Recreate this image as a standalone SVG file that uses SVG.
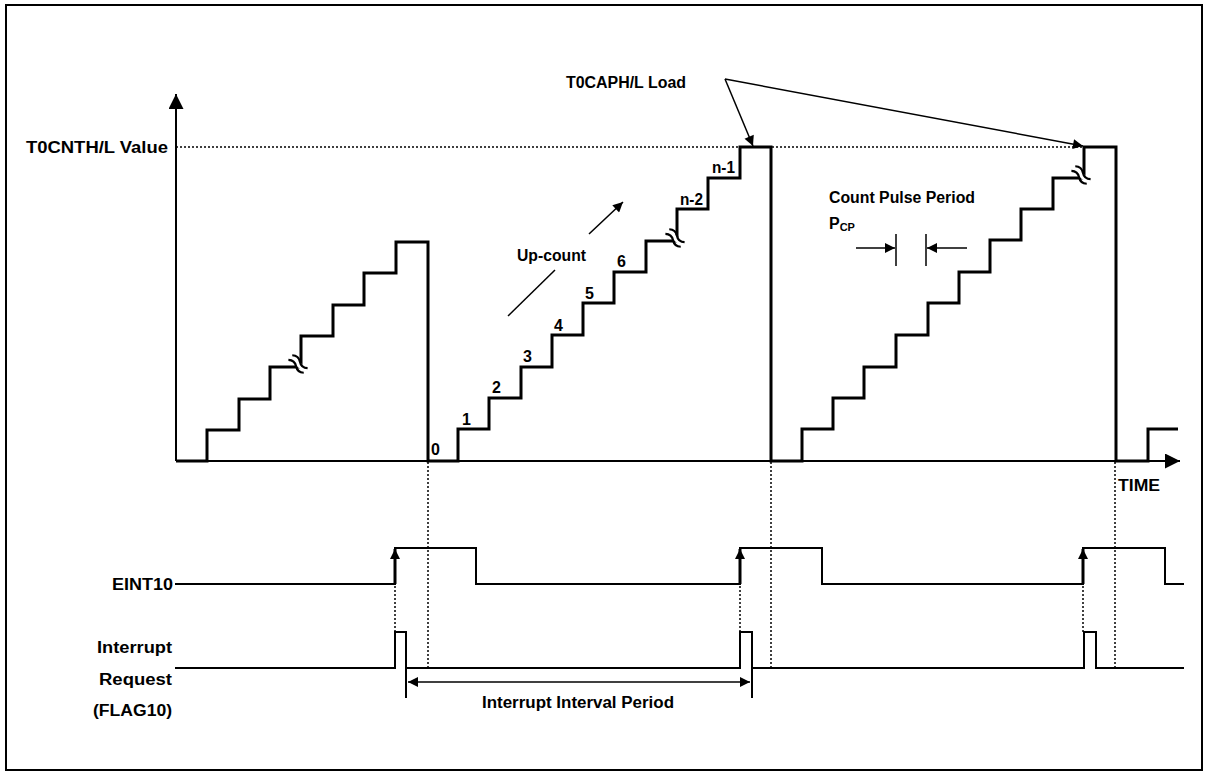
<svg xmlns="http://www.w3.org/2000/svg" width="1208" height="776" viewBox="0 0 1208 776">
<style>
  text { font-family: "Liberation Sans", Arial, sans-serif; font-weight: bold; font-size: 16px; fill: #000; }
  .thick { fill: none; stroke: #000; stroke-width: 3; stroke-linejoin: miter; }
  .line { fill: none; stroke: #000; stroke-width: 2; }
  .thin { fill: none; stroke: #000; stroke-width: 1.5; }
  .dot { fill: none; stroke: #000; stroke-width: 1.5; stroke-dasharray: 2 2; }
</style>
<defs>
  <marker id="ah" viewBox="0 0 10 10" refX="10" refY="5" markerUnits="userSpaceOnUse" markerWidth="15" markerHeight="10" orient="auto-start-reverse">
    <path d="M0,0 L10,5 L0,10 z" fill="#000"/>
  </marker>
  <marker id="ahb" viewBox="0 0 10 10" refX="10" refY="5" markerUnits="userSpaceOnUse" markerWidth="16" markerHeight="15" orient="auto">
    <path d="M0,0 L10,5 L0,10 z" fill="#000"/>
  </marker>
  <g id="brk">
    <rect x="-11" y="-2.5" width="22" height="5" fill="#fff"/>
    <path d="M-10,-3 q5,-4 10,0 t10,0" fill="none" stroke="#000" stroke-width="2.2"/>
    <path d="M-10,3 q5,-4 10,0 t10,0" fill="none" stroke="#000" stroke-width="2.2"/>
  </g>
</defs>

<rect x="6" y="5" width="1196" height="765" fill="#fff" stroke="#000" stroke-width="2"/>

<g id="axes">
  <path class="line" d="M176,461 V94" marker-end="url(#ahb)"/>
  <path class="line" d="M176,461 H1180" marker-end="url(#ahb)"/>
  <path class="dot" d="M176,147 H1083"/>
  <text x="26" y="153" textLength="142" lengthAdjust="spacingAndGlyphs">T0CNTH/L Value</text>
  <text x="1118" y="491" textLength="42" lengthAdjust="spacingAndGlyphs">TIME</text>
</g>

<g id="counter">
  <path class="thick" d="M176,461 H207 V430 H239 V399 H270 V367 H301 V336 H333 V305 H364 V273 H396 V242 H428 V461 H458 V429 H489 V398 H521 V367 H552 V335 H583 V303 H614 V272 H646 V241 H677 V209 H708 V178 H740 V147 H771 V461 H802 V429 H833 V398 H864 V367 H896 V335 H928 V303 H959 V272 H990 V240 H1021 V209 H1053 V178 H1084 V147 H1116 V461 H1148 V429 H1178"/>
  <use href="#brk" transform="translate(298,364) rotate(40)"/>
  <use href="#brk" transform="translate(675,238) rotate(40)"/>
  <use href="#brk" transform="translate(1081,175) rotate(40)"/>
  <text x="431" y="455">0</text>
  <text x="462" y="425">1</text>
  <text x="492" y="393">2</text>
  <text x="523" y="362">3</text>
  <text x="554" y="331">4</text>
  <text x="585" y="299">5</text>
  <text x="617" y="267">6</text>
  <text x="680" y="205" textLength="23" lengthAdjust="spacingAndGlyphs">n-2</text>
  <text x="712" y="173" textLength="23" lengthAdjust="spacingAndGlyphs">n-1</text>
</g>

<g id="upcount">
  <path class="thin" d="M508,316 L555,270"/>
  <path class="thin" d="M589,234 L623,202" marker-end="url(#ah)"/>
  <text x="517" y="261" textLength="69" lengthAdjust="spacingAndGlyphs">Up-count</text>
</g>

<g id="load">
  <text x="566" y="88" textLength="120" lengthAdjust="spacingAndGlyphs">T0CAPH/L Load</text>
  <path class="thin" d="M725,79 L753,146" marker-end="url(#ah)"/>
  <path class="thin" d="M725,79 L1083,146" marker-end="url(#ah)"/>
</g>

<g id="pcp">
  <text x="829" y="203" textLength="146" lengthAdjust="spacingAndGlyphs">Count Pulse Period</text>
  <text x="829" y="229">P<tspan font-size="11" dy="2">CP</tspan></text>
  <path class="thin" d="M856,248 H895" marker-end="url(#ah)"/>
  <path class="thin" d="M967,248 H927" marker-end="url(#ah)"/>
  <path class="thin" d="M896,234 V266 M926,234 V266"/>
</g>

<g id="eint10">
  <text x="173" y="590" text-anchor="end" textLength="61" lengthAdjust="spacingAndGlyphs">EINT10</text>
  <path class="line" d="M175,584 H395 V548 H476 V584 H740 V548 H822 V584 H1083 V548 H1165 V584 H1184"/>
  <path class="thick" d="M395,584 V549" marker-end="url(#ah)"/>
  <path class="thick" d="M740,584 V549" marker-end="url(#ah)"/>
  <path class="thick" d="M1083,584 V549" marker-end="url(#ah)"/>
</g>

<g id="interrupt">
  <text x="172" y="653" text-anchor="end" textLength="75" lengthAdjust="spacingAndGlyphs">Interrupt</text>
  <text x="172" y="685" text-anchor="end" textLength="73" lengthAdjust="spacingAndGlyphs">Request</text>
  <text x="172" y="716" text-anchor="end" textLength="79" lengthAdjust="spacingAndGlyphs">(FLAG10)</text>
  <path class="line" d="M175,668 H395 V632 H406 V668 H740 V632 H752 V668 H1084 V632 H1096 V668 H1184"/>
  <path class="line" d="M406,668 V698 M752,668 V698"/>
  <path class="thin" d="M408,682 H750" marker-start="url(#ah)" marker-end="url(#ah)"/>
  <text x="578" y="708" text-anchor="middle" textLength="192" lengthAdjust="spacingAndGlyphs">Interrupt Interval Period</text>
</g>

<g id="connectors">
  <path class="dot" d="M428,462 V668 M771,462 V668 M1115,462 V668"/>
  <path class="dot" d="M395,586 V632 M740,586 V632 M1083,586 V632"/>
</g>
</svg>
